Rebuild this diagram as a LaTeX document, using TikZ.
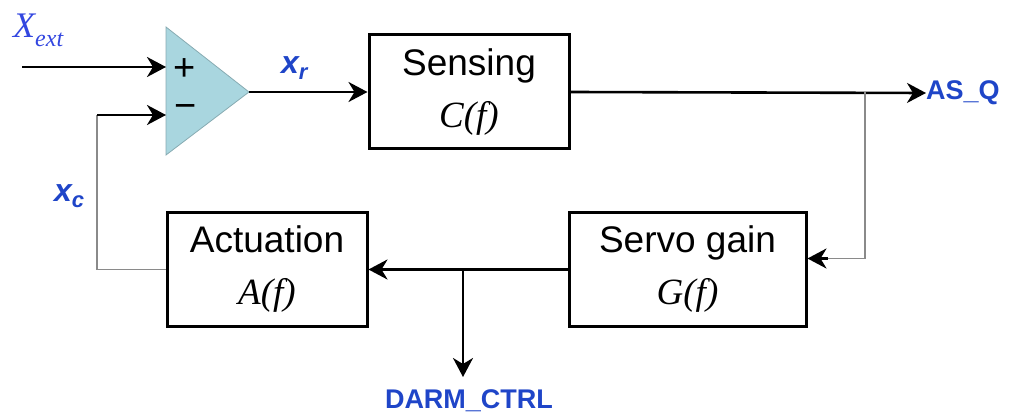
\documentclass[tikz,border=0pt]{standalone}
\usepackage{fontspec}
\setmainfont{Liberation Sans}
\newfontfamily\serifit{Liberation Serif}
\usetikzlibrary{arrows.meta,calc}
\definecolor{lblue}{HTML}{1F45C8}
\definecolor{xblue}{HTML}{3347E0}
\definecolor{trifill}{HTML}{A9D6DF}
\definecolor{glin}{HTML}{8A8A8A}
\begin{document}
\begin{tikzpicture}[x=1pt,y=-1pt,
  arr/.style={line width=2.6pt,-{Stealth[length=19pt,width=20pt,inset=6pt]}},
  gline/.style={line width=1.4pt,draw=glin},
  blockbox/.style={draw,line width=3pt,minimum width=200pt,minimum height=114pt,align=center,
     font=\fontsize{37}{52}\selectfont,inner sep=0pt},
  siglabel/.style={text=lblue,font=\fontsize{27}{27}\selectfont\bfseries},
  varlabel/.style={text=lblue,font=\fontsize{32}{32}\selectfont\bfseries\itshape}
]
\useasboundingbox (0,0) rectangle (1015,414);
% summing amplifier
\coordinate (plus) at (166,67);
\coordinate (minus) at (166,115);
\coordinate (tip) at (249,92);
\fill[trifill,draw=trifill!80!black,line width=0.8pt] (166,27) -- (249,92) -- (166,155) -- cycle;
\node[font=\fontsize{38}{38}\selectfont] (plussign) at (185,70) {+};
\node[font=\fontsize{38}{38}\selectfont] (minussign) at (186,112) {−};
% blocks
\node[blockbox] (sensing) at (469,92) {Sensing\\{\serifit\itshape C(f)}};
\node[blockbox,minimum width=237pt] (servo) at (687.5,269.5) {Servo gain\\{\serifit\itshape G(f)}};
\node[blockbox] (act) at (267,269.5) {Actuation\\{\serifit\itshape A(f)}};
% labels
\node[text=xblue,anchor=base west,inner sep=0pt] (xext) at (13,38)
  {\serifit\itshape\fontsize{36}{36}\selectfont X\raisebox{-9pt}{\fontsize{24}{24}\selectfont ext}};
\node[varlabel,anchor=base west,inner sep=0pt] (xr) at (281,74) {x\raisebox{-6pt}{\fontsize{22}{22}\selectfont r}};
\node[varlabel,anchor=base west,inner sep=0pt] (xc) at (54,202) {x\raisebox{-6pt}{\fontsize{22}{22}\selectfont c}};
\node[siglabel,anchor=west,inner sep=0pt] (asq) at (926,93) {AS\_Q};
\node[siglabel,anchor=north,inner sep=0pt] (darm) at (469,389) {DARM\_CTRL};
% connectors
\coordinate (xin) at (22,67);
\draw[arr] (xin) -- (plus);
\draw[arr] (tip) -- (sensing.west);
\draw[arr] (sensing.east) -- (asq.west);
\coordinate (b1) at (865,92);
\draw[gline] (b1) |- ([yshift=11pt]servo.east);
\draw[arr] ([xshift=20pt,yshift=11pt]servo.east) -- ([yshift=11pt]servo.east);
\draw[arr] (servo.west) -- (act.east);
\coordinate (b2) at (463,269.5);
\draw[arr,shorten >=12pt] (b2) -- (b2 |- darm.north);
\coordinate (c1) at (97,115);
\draw[gline] (act.west) -| (c1);
\draw[arr] (c1) -- (minus);
\end{tikzpicture}
\end{document}
